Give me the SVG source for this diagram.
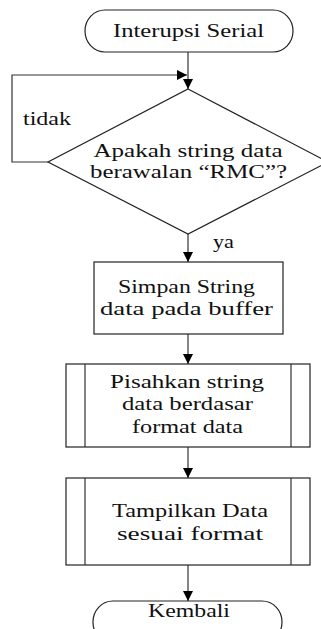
<svg xmlns="http://www.w3.org/2000/svg" width="321" height="629" viewBox="0 0 321 629">
<defs>
<style>
.s{fill:#fff;stroke:#222;stroke-width:1.2}
.l{fill:none;stroke:#333;stroke-width:1.2}
.t{font-family:"Liberation Serif","Times New Roman",serif;font-size:19.5px;fill:#111;text-anchor:middle}
.tl{font-family:"Liberation Serif","Times New Roman",serif;font-size:19.5px;fill:#111}
</style>
<marker id="ah" viewBox="0 0 10 10" refX="10" refY="5" markerWidth="10" markerHeight="10" markerUnits="userSpaceOnUse" orient="auto">
<path d="M0,0 L10,5 L0,10 Z" fill="#000"/>
</marker>
</defs>
<g id="connectors">
<path class="l" d="M188,52 V89" marker-end="url(#ah)"/>
<path class="l" d="M48,162 H12 V75 H187" marker-end="url(#ah)"/>
<path class="l" d="M188,234 V262" marker-end="url(#ah)"/>
<path class="l" d="M188,334 V364" marker-end="url(#ah)"/>
<path class="l" d="M188,447 V478" marker-end="url(#ah)"/>
<path class="l" d="M188,565 V601" marker-end="url(#ah)"/>
<text class="tl" x="23" y="125" textLength="48" lengthAdjust="spacingAndGlyphs">tidak</text>
<text class="tl" x="213" y="248" textLength="21" lengthAdjust="spacingAndGlyphs">ya</text>
</g>
<g id="start">
<rect class="s" x="85" y="10" width="208" height="42" rx="20" ry="21"/>
<text class="t" x="188.5" y="37" textLength="151" lengthAdjust="spacingAndGlyphs">Interupsi Serial</text>
</g>
<g id="decision">
<polygon class="s" points="188,89 328,162 188,234 48,162"/>
<text class="t" x="188" y="157" textLength="189" lengthAdjust="spacingAndGlyphs">Apakah string data</text>
<text class="t" x="188.5" y="178" textLength="197" lengthAdjust="spacingAndGlyphs">berawalan “RMC”?</text>
</g>
<g id="simpan">
<rect class="s" x="94" y="262" width="189" height="72"/>
<text class="t" x="186.5" y="293" textLength="137" lengthAdjust="spacingAndGlyphs">Simpan String</text>
<text class="t" x="186.5" y="315" textLength="173" lengthAdjust="spacingAndGlyphs">data pada buffer</text>
</g>
<g id="pisahkan">
<rect class="s" x="66" y="364" width="244" height="83"/>
<path class="l" d="M85,364 V447 M291,364 V447"/>
<text class="t" x="187" y="388" textLength="154" lengthAdjust="spacingAndGlyphs">Pisahkan string</text>
<text class="t" x="187.5" y="410" textLength="131" lengthAdjust="spacingAndGlyphs">data berdasar</text>
<text class="t" x="187.5" y="433" textLength="111" lengthAdjust="spacingAndGlyphs">format data</text>
</g>
<g id="tampilkan">
<rect class="s" x="66" y="478" width="244" height="87"/>
<path class="l" d="M85,478 V565 M291,478 V565"/>
<text class="t" x="190" y="517" textLength="156" lengthAdjust="spacingAndGlyphs">Tampilkan Data</text>
<text class="t" x="190" y="540" textLength="146" lengthAdjust="spacingAndGlyphs">sesuai format</text>
</g>
<g id="kembali">
<rect class="s" x="93" y="601" width="189" height="42" rx="20" ry="21"/>
<text class="t" x="189" y="617" textLength="82" lengthAdjust="spacingAndGlyphs">Kembali</text>
</g>
</svg>
